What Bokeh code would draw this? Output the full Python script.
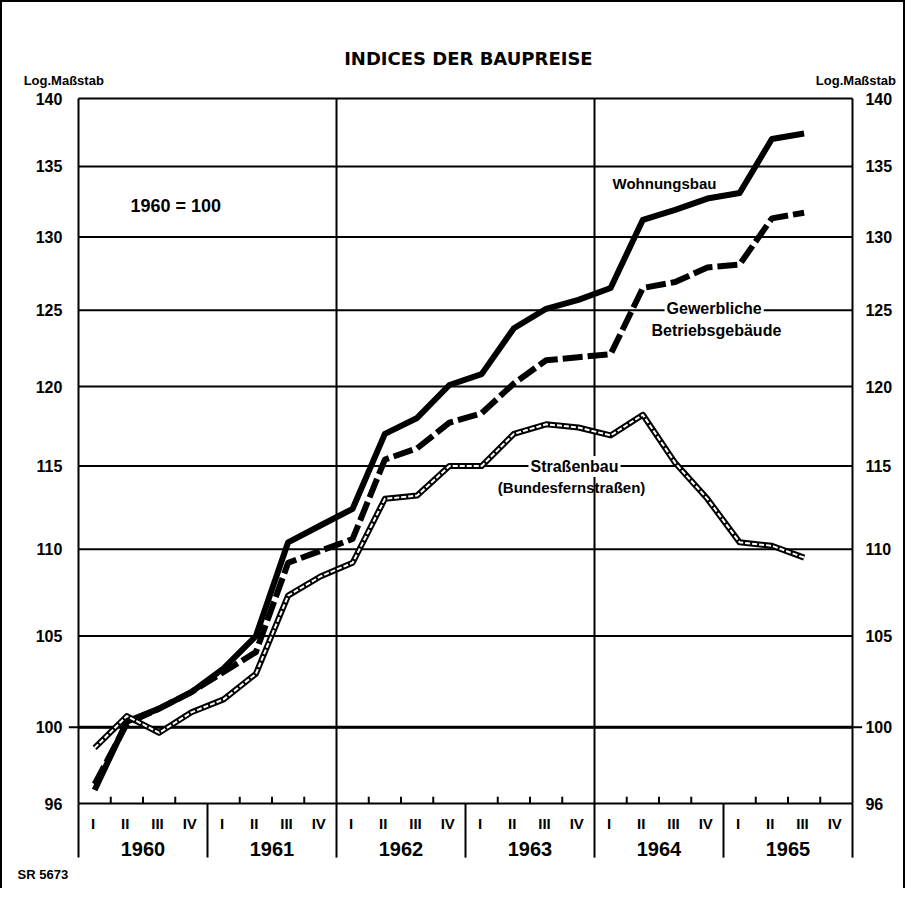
import math
from bokeh.plotting import figure
from bokeh.models import Range1d, Label, LabelSet, ColumnDataSource
from bokeh.core.properties import value
from bokeh.embed import file_html
from bokeh.resources import INLINE

# ---------------- data ----------------
years = ["1960", "1961", "1962", "1963", "1964", "1965"]
quarters = ["I", "II", "III", "IV"]
y_ticks = [96, 100, 105, 110, 115, 120, 125, 130, 135, 140]

# quarterly index values, 1960 I .. 1965 III (1960 = 100)
wohnungsbau = [96.7, 100.3, 101.0, 101.9, 103.2, 105.0, 110.4, 111.4, 112.4, 117.0, 118.0, 120.1,
               120.8, 123.8, 125.1, 125.7, 126.5, 131.2, 131.9, 132.7, 133.1, 137.0, 137.4]
gewerbliche = [97.0, 100.2, 101.0, 101.9, 103.0, 104.1, 109.2, 109.9, 110.6, 115.4, 116.1, 117.7,
               118.3, 120.2, 121.7, 121.9, 122.1, 126.5, 126.9, 127.9, 128.1, 131.3, 131.7]
strassenbau = [98.9, 100.6, 99.7, 100.8, 101.5, 102.9, 107.3, 108.4, 109.2, 113.0, 113.2, 115.0,
               115.0, 117.0, 117.6, 117.4, 116.9, 118.2, 115.2, 113.0, 110.4, 110.2, 109.5]

SANS = "Liberation Sans"
TITLE_FONT = "DejaVu Sans"

# ---------------- figure geometry ----------------
W, H = 905, 888
n_q = len(years) * 4
y_top, y_base = 140.0, 96.0
PX_Q = 32.25                       # pixels per quarter
LEFT_PX, TOP_PX = 76.0, 96.0        # plot area offset inside the figure
px_per_log = 705.0 / math.log(y_top / y_base)

x_lo = -LEFT_PX / PX_Q
x_hi = (W - LEFT_PX) / PX_Q
y_hi = y_top * math.exp(TOP_PX / px_per_log)
y_lo = y_top * math.exp(-(H - TOP_PX) / px_per_log)

p = figure(width=W, height=H, output_backend="svg", toolbar_location=None,
           x_range=Range1d(x_lo, x_hi), y_range=Range1d(y_lo, y_hi),
           y_axis_type="log", x_axis_location=None, y_axis_location=None,
           min_border_left=0, min_border_right=0, min_border_top=0, min_border_bottom=0)
p.outline_line_color = None
p.grid.visible = False
p.background_fill_color = "white"
p.border_fill_color = "white"
p.styles = {"border-left": "2px solid black", "border-top": "2px solid black",
            "border-right": "2px solid black"}

# horizontal grid lines
p.segment(x0=[0] * len(y_ticks), y0=y_ticks, x1=[n_q] * len(y_ticks), y1=y_ticks,
          line_color="black", line_width=2)
p.segment(x0=[0], y0=[100], x1=[n_q], y1=[100], line_color="black", line_width=3)
# small dashes at 100 outside the plot
p.segment(x0=[-0.3, n_q], y0=[100, 100], x1=[0, n_q + 0.3], y1=[100, 100],
          line_color="black", line_width=2)

# vertical frame lines (plot border and 1962 / 1964 dividers)
vx = [0, 8, 16, 24]
p.segment(x0=vx, y0=[y_base] * len(vx), x1=vx, y1=[y_top] * len(vx),
          line_color="black", line_width=2)
# year separators below the plot
yx = [4 * k for k in range(len(years) + 1)]
p.segment(x0=yx, y0=[y_base] * len(yx), x1=yx, y1=[93.26] * len(yx),
          line_color="black", line_width=2)
# quarter tick marks
qx = [i for i in range(1, n_q) if i % 4 != 0]
p.segment(x0=qx, y0=[y_base] * len(qx), x1=qx, y1=[96.35] * len(qx),
          line_color="black", line_width=2)

# ---------------- series ----------------
xs = [i + 0.5 for i in range(len(wohnungsbau))]
p.line(xs, wohnungsbau, line_color="black", line_width=6, line_join="round")
p.line(xs, gewerbliche, line_color="black", line_width=6, line_dash="20 5", line_join="round")
p.line(xs, strassenbau, line_color="black", line_width=6, line_join="round")
p.line(xs, strassenbau, line_color="white", line_width=2, line_dash="5 2", line_join="round")

# ---------------- axis labels ----------------
def labelset(x, y, t, align, size, font=SANS):
    src = ColumnDataSource(data=dict(x=x, y=y, t=t))
    p.add_layout(LabelSet(x="x", y="y", text="t", source=src, text_align=align,
                          text_baseline="middle", text_font=value(font),
                          text_font_style="bold", text_font_size=value(size),
                          text_color="black"))

tick_txt = [str(v) for v in y_ticks]
labelset([-0.5] * len(y_ticks), y_ticks, tick_txt, "right", "16px")
labelset([n_q + 0.4] * len(y_ticks), y_ticks, tick_txt, "left", "16px")
labelset([i + 0.45 for i in range(n_q)], [94.98] * n_q,
         [quarters[i % 4] for i in range(n_q)], "center", "15px")
labelset([4 * k + 2 for k in range(len(years))], [93.71] * len(years), years, "center", "20px")

# ---------------- texts ----------------
def lab(x, y, text, font=SANS, size="15px", align="left", bg=None):
    l = Label(x=x, y=y, text=text, text_font=font, text_font_style="bold",
              text_font_size=size, text_align=align, text_baseline="middle",
              text_color="black")
    if bg:
        l.background_fill_color = bg
        l.padding = 2
    p.add_layout(l)

lab(12.09, 143.03, "INDICES DER BAUPREISE", font=TITLE_FONT, size="18px", align="center")
lab(-1.70, 141.35, "Log.Maßstab", size="13px")
lab(25.35, 141.35, "Log.Maßstab", size="13px", align="right")
lab(1.61, 132.2, "1960 = 100", size="18px")
lab(16.56, 133.77, "Wohnungsbau", size="15px")
lab(19.71, 125.12, "Gewerbliche", size="16px", align="center", bg="white")
lab(19.78, 123.66, "Betriebsgebäude", size="16px", align="center")
lab(15.38, 114.97, "Straßenbau", size="16px", align="center", bg="white")
lab(15.29, 113.69, "(Bundesfernstraßen)", size="15px", align="center")
lab(-1.89, 92.4, "SR 5673", size="13px")

open("out.html", "w").write(file_html(p, INLINE))
